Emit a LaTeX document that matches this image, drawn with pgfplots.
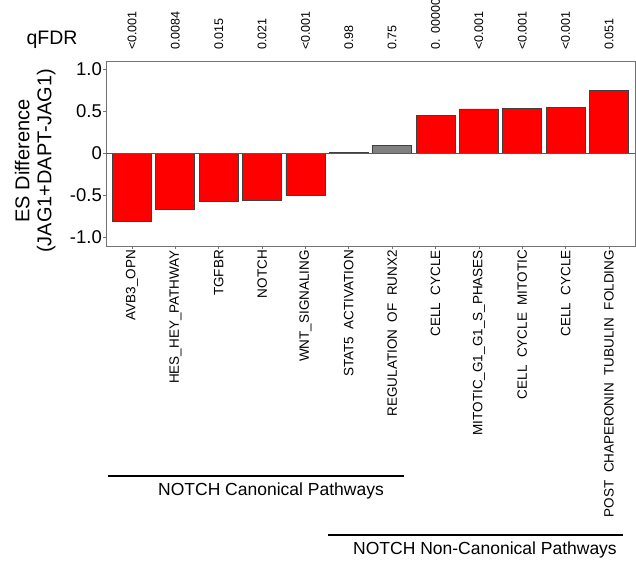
\documentclass[border=0pt]{standalone}
\usepackage{pgfplots}
\pgfplotsset{compat=1.18}
\usepackage{fontspec}
\setmainfont{Liberation Sans}
\newcommand\dsp{\ \ }
\begin{document}
\begin{tikzpicture}
\path[use as bounding box] (0pt,0pt) rectangle (636pt,562pt);
\begin{axis}[
  at={(106pt,316pt)}, anchor=south west,
  scale only axis, width=529pt, height=185pt,
  xmin=-0.6, xmax=11.6, ymin=-1.1, ymax=1.1,
  ybar, bar width=0.9, bar shift=0pt,
  clip=false,
  /pgf/number format/assume math mode=true,
  xtick={0,...,11},
  xticklabels={AVB3\_OPN, HES\_HEY\_PATHWAY, TGFBR, NOTCH, WNT\_SIGNALING, STAT5\dsp ACTIVATION, REGULATION\dsp OF\dsp RUNX2, CELL\dsp CYCLE, MITOTIC\_G1\_G1\_S\_PHASES, CELL\dsp CYCLE\dsp MITOTIC, CELL\dsp CYCLE, POST\dsp CHAPERONIN\dsp TUBULIN\dsp FOLDING},
  xticklabel style={rotate=90, anchor=east, font=\fontsize{13.5}{14}\selectfont, inner sep=1pt},
  ytick={-1,-0.5,0,0.5,1}, yticklabels={-1.0,-0.5,0,0.5,1.0},
  yticklabel style={font=\fontsize{18.5}{20}\selectfont, inner sep=1pt},
  xtick pos=bottom, ytick pos=left,
  tick align=outside, major tick length=3pt,
  axis line style={black!55, line width=1pt},
  tick style={black!55, line width=0.8pt},
  ylabel={ES Difference\\(JAG1+DAPT-JAG1)},
  ylabel style={align=center, font=\fontsize{20}{22}\selectfont, at={(axis description cs:-0.134,0.46)}, anchor=center},
]
\addplot[fill=red, draw=black!75, line width=0.8pt] coordinates {(0,-0.81) (1,-0.667) (2,-0.575) (3,-0.563) (4,-0.50) (7,0.45) (8,0.53) (9,0.535) (10,0.55) (11,0.755)};
\addplot[fill=gray, draw=black!75, line width=0.8pt] coordinates {(5,0.015) (6,0.095)};
\draw[black!65, line width=0.8pt] (axis cs:-0.6,0) -- (axis cs:11.6,0);
\tikzset{q/.style={rotate=90, anchor=west, inner sep=0pt, font=\fontsize{12.5}{13}\selectfont}}
\node[q] at ([yshift=11pt]axis cs:0,1.1) {<0.001};
\node[q] at ([yshift=11pt]axis cs:1,1.1) {0.0084};
\node[q] at ([yshift=11pt]axis cs:2,1.1) {0.015};
\node[q] at ([yshift=11pt]axis cs:3,1.1) {0.021};
\node[q] at ([yshift=11pt]axis cs:4,1.1) {<0.001};
\node[q] at ([yshift=11pt]axis cs:5,1.1) {0.98};
\node[q] at ([yshift=11pt]axis cs:6,1.1) {0.75};
\node[q] at ([yshift=11pt]axis cs:7,1.1) {0.\hspace{6pt}00000};
\node[q] at ([yshift=11pt]axis cs:8,1.1) {<0.001};
\node[q] at ([yshift=11pt]axis cs:9,1.1) {<0.001};
\node[q] at ([yshift=11pt]axis cs:10,1.1) {<0.001};
\node[q] at ([yshift=11pt]axis cs:11,1.1) {0.051};
\end{axis}
\node[font=\fontsize{19.5}{21}\selectfont, inner sep=0pt] at (52pt,522pt) {qFDR};
\draw[line width=2pt] (108pt,86pt) -- (404pt,86pt);
\node[font=\fontsize{17.5}{19}\selectfont, inner sep=0pt] at (271pt,71pt) {NOTCH Canonical Pathways};
\draw[line width=2pt] (328pt,27pt) -- (623pt,27pt);
\node[font=\fontsize{17.5}{19}\selectfont, inner sep=0pt] at (485pt,12pt) {NOTCH Non-Canonical Pathways};
\end{tikzpicture}
\end{document}
